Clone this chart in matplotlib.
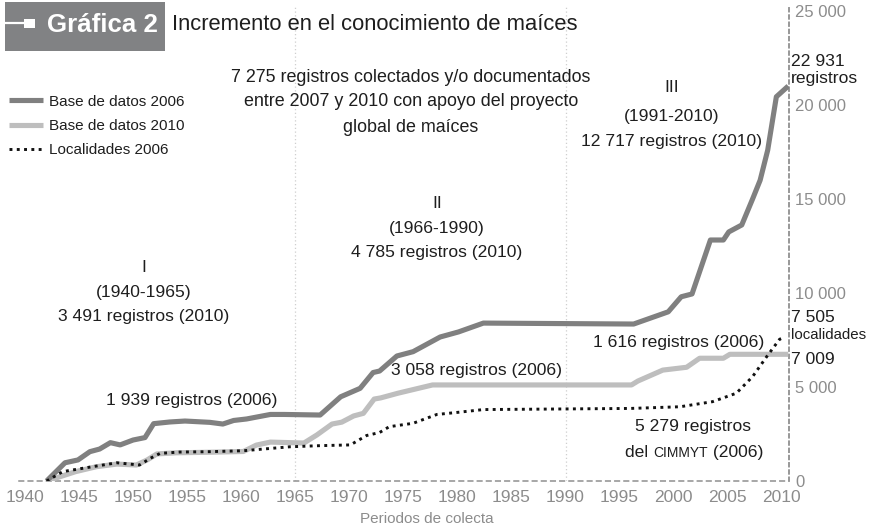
import matplotlib
matplotlib.use('Agg')
import matplotlib.pyplot as plt
from matplotlib import font_manager as fm
from matplotlib.patches import Rectangle
from matplotlib.lines import Line2D

# ---------------- data ----------------
years_2006 = [1942.0, 1943.7, 1944.9, 1946.0, 1946.9, 1947.9, 1948.8, 1950.0, 1951.1, 1951.9,
              1953.4, 1954.8, 1957.1, 1958.3, 1959.3, 1960.5, 1962.7, 1964.0, 1967.3, 1969.2,
              1971.0, 1972.2, 1972.8, 1974.4, 1975.9, 1978.4, 1980.1, 1982.4, 1996.3, 1999.5,
              2000.7, 2001.7, 2003.4, 2004.6, 2005.1, 2006.3, 2007.3, 2008.0, 2008.7, 2009.5, 2010.6]
base_2006 = [0, 970, 1120, 1560, 1700, 2040, 1920, 2180, 2310, 3050,
             3140, 3190, 3120, 3030, 3220, 3300, 3540, 3540, 3510, 4480,
             4930, 5770, 5850, 6650, 6880, 7660, 7930, 8400, 8350, 9000,
             9800, 9950, 12820, 12820, 13250, 13620, 15000, 16000, 17600, 20440, 21010]

years_2010 = [1942.0, 1944.7, 1946.6, 1948.5, 1950.3, 1951.3, 1952.2, 1954.0, 1957.1, 1960.2,
              1961.4, 1962.7, 1965.8, 1967.0, 1968.4, 1969.3, 1970.4, 1971.3, 1972.3, 1972.9,
              1974.5, 1977.7, 1996.1, 1996.7, 1999.0, 2001.2, 2002.4, 2004.6, 2005.2, 2010.6]
base_2010 = [0, 500, 760, 900, 850, 1120, 1440, 1500, 1530, 1570,
             1910, 2070, 2020, 2450, 3030, 3130, 3460, 3600, 4360, 4420,
             4670, 5110, 5110, 5320, 5900, 6050, 6530, 6530, 6740, 6740]

years_loc = [1942.0, 1943.5, 1945.7, 1947.2, 1948.5, 1949.7, 1950.6, 1951.6, 1952.5, 1954.3,
             1957.1, 1960.2, 1964.5, 1967.3, 1970.1, 1971.6, 1972.8, 1973.7, 1975.9, 1978.1,
             1980.0, 1982.4, 1996.0, 2000.6, 2003.6, 2005.8, 2007.3, 2008.6, 2009.8, 2010.1]
loc_2006 = [0, 500, 710, 850, 970, 900, 850, 1210, 1470, 1540,
            1560, 1610, 1820, 1880, 1920, 2420, 2580, 2890, 3070, 3540,
            3650, 3800, 3860, 3950, 4220, 4670, 5550, 6610, 7540, 7610]

x_ticks = list(range(1940, 2011, 5))
y_ticks = [0, 5000, 10000, 15000, 20000, 25000]
y_tick_labels = ['0', '5 000', '10 000', '15 000', '20 000', '25 000']
legend_labels = ['Base de datos 2006', 'Base de datos 2010', 'Localidades 2006']

# ---------------- fonts ----------------
names = {f.name for f in fm.fontManager.ttflist}
if 'Liberation Sans Narrow' in names:
    FONT, S = 'Liberation Sans Narrow', 1.16
else:
    FONT, S = 'Liberation Sans', 1.0
plt.rcParams['font.family'] = [FONT, 'DejaVu Sans']

W, H = 874, 530
fig = plt.figure(figsize=(W / 100, H / 100), dpi=100)


def fx(x):
    return x / W


def fy(y):
    return 1 - y / H


ax = fig.add_axes([fx(19), fy(481), (789 - 19) / W, (481 - 5.4) / H])
ax.set_xlim(1939.445, 2010.67)
ax.set_ylim(0, 25300)

DARK = '#808080'
LIGHT = '#bebebe'
GRAY_TXT = '#8c8c8c'
TXT = '#1e1e1e'

for xv in (1965, 1990):
    ax.axvline(xv, color='#cfcfcf', lw=0.9, ls=(0, (1, 2)), zorder=1)

l2010, = ax.plot(years_2010, base_2010, color=LIGHT, lw=3.7, solid_joinstyle='round',
                 solid_capstyle='butt', zorder=3)
l2006, = ax.plot(years_2006, base_2006, color=DARK, lw=3.7, solid_joinstyle='round',
                 solid_capstyle='butt', zorder=4)
lloc, = ax.plot(years_loc, loc_2006, color='#111111', lw=2.1, ls=(0, (1, 1.5)), zorder=5)

for side in ('top', 'left'):
    ax.spines[side].set_visible(False)
ax.spines['bottom'].set_color('#909090')
ax.spines['bottom'].set_linestyle((0, (3, 3)))
ax.spines['bottom'].set_linewidth(1.1)
ax.spines['right'].set_color('#909090')
ax.spines['right'].set_linestyle((0, (2, 2)))
ax.spines['right'].set_linewidth(1.3)

ax.set_xticks(x_ticks)
ax.set_xticklabels([str(t) for t in x_ticks])
ax.yaxis.tick_right()
ax.set_yticks(y_ticks)
ax.set_yticklabels(y_tick_labels)
ax.tick_params(axis='x', length=0, pad=6.5, labelsize=12.5, labelcolor=GRAY_TXT)
ax.tick_params(axis='y', length=0, pad=4.5, labelsize=12, labelcolor=GRAY_TXT)
ax.patch.set_visible(False)

leg = ax.legend([l2006, l2010, lloc], legend_labels, loc='upper left',
                bbox_to_anchor=(fx(9), fy(94.5)), bbox_transform=fig.transFigure,
                frameon=False, fontsize=11, handlelength=2.2, handletextpad=0.4,
                labelspacing=0.68, borderpad=0, borderaxespad=0)
for t in leg.get_texts():
    t.set_color(TXT)

# ---------------- title block ----------------
fig.patches.append(Rectangle((fx(5), fy(51)), 160 / W, 49 / H, transform=fig.transFigure,
                             facecolor='#818284', edgecolor='none', zorder=0))
fig.lines.append(Line2D([fx(5), fx(25)], [fy(23), fy(23)], transform=fig.transFigure,
                        color='white', lw=1.6))
fig.patches.append(Rectangle((fx(24), fy(28)), 11 / W, 9 / H, transform=fig.transFigure,
                             facecolor='white', edgecolor='none'))
fig.text(fx(47), fy(25), 'Gráfica 2', color='white', fontweight='bold', fontsize=18.6,
         ha='left', va='center')
fig.text(fx(172), fy(25), 'Incremento en el conocimiento de maíces', color=TXT,
         fontsize=15.8, ha='left', va='center')


def txt(x, y, s, size=12.6, color=TXT, ha='center', **kw):
    return fig.text(fx(x), fy(y), s, fontsize=size, color=color, ha=ha, va='center', **kw)


for y, s in ((77, '7 275 registros colectados y/o documentados'),
             (102, 'entre 2007 y 2010 con apoyo del proyecto'),
             (127, 'global de maíces')):
    txt(411, y, s, size=12.9)

for y, s in ((88, 'III'), (116, '(1991-2010)'), (142, '12 717 registros (2010)')):
    txt(672, y, s)
for y, s in ((204, 'II'), (228, '(1966-1990)'), (252, '4 785 registros (2010)')):
    txt(437, y, s)
for y, s in ((267, 'I'), (292, '(1940-1965)'), (316, '3 491 registros (2010)')):
    txt(144, y, s)

txt(192, 400, '1 939 registros (2006)')
txt(477, 370, '3 058 registros (2006)')
txt(679, 342, '1 616 registros (2006)')
txt(693, 426, '5 279 registros')

txt(791, 61, '22 931', ha='left')
txt(791, 78, 'registros', ha='left')
txt(791, 317, '7 505', ha='left')
txt(791, 335, 'localidades', ha='left', size=10.8)
txt(791, 359, '7 009', ha='left')

txt(427, 519, 'Periodos de colecta', size=11, color=GRAY_TXT)

# "del CIMMYT (2006)" with small caps
renderer = fig.canvas.get_renderer()
base_y = fy(457)
parts = [('del ', 12.6), ('CIMMYT', 10), (' (2006)', 12.6)]
objs = [fig.text(0, base_y, s, fontsize=sz, color=TXT, ha='left', va='baseline')
        for s, sz in parts]
widths = [o.get_window_extent(renderer).width for o in objs]
xpix = 694 - sum(widths) / 2
for o, w in zip(objs, widths):
    o.set_x(fx(xpix))
    xpix += w

fig.savefig('out.png', dpi=100)
